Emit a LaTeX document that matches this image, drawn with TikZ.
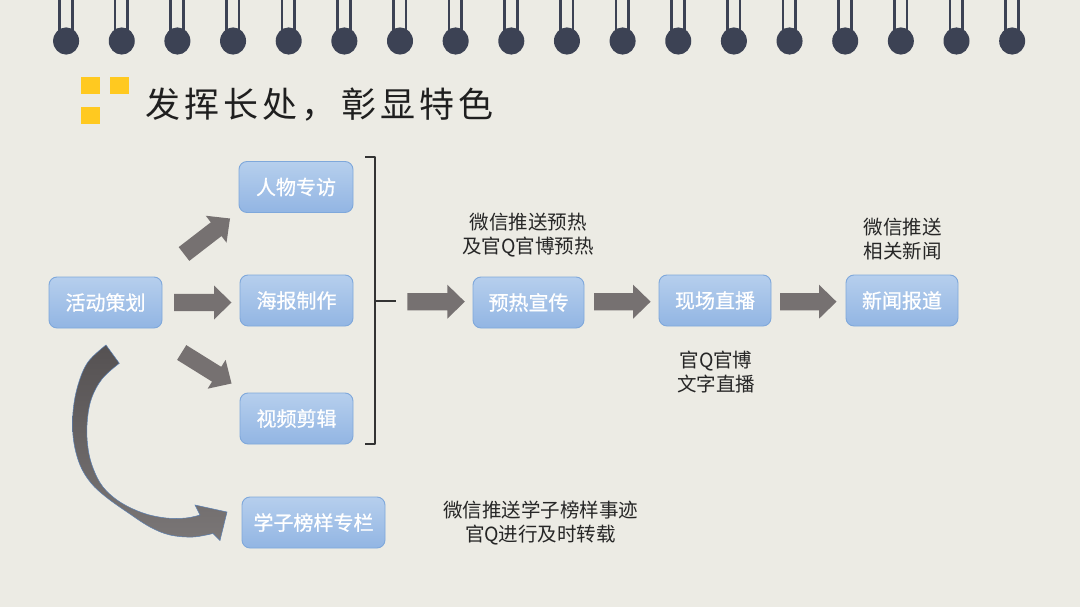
\documentclass[tikz,border=0pt]{standalone}
\usepackage{fontspec}
\setmainfont{Noto Sans CJK SC}
\newfontfamily\cjk{Noto Sans CJK SC}
\newfontfamily\cjkb[FakeBold=0.8]{Noto Sans CJK SC}
\usetikzlibrary{calc}
\definecolor{bg}{HTML}{ECEBE4}
\definecolor{ringc}{HTML}{3C4254}
\definecolor{sq}{HTML}{FFC920}
\definecolor{boxtop}{HTML}{B6CFED}
\definecolor{boxbot}{HTML}{92B5E3}
\definecolor{boxborder}{HTML}{7FA8DB}
\definecolor{arrowgrey}{HTML}{767171}
\definecolor{curvetop}{HTML}{555152}
\definecolor{curvebot}{HTML}{7A7676}
\definecolor{curveedge}{HTML}{5B80B2}
\definecolor{notec}{HTML}{262626}
\definecolor{brackc}{HTML}{333333}
\newcommand\tsp{\hspace{4.2pt}}
\newcommand\blockarrow[2]{%
  \coordinate (ba-h) at ($(#2)!17.5pt!(#1)$);
  \fill[arrowgrey] ($(#1)!8.7pt!90:(#2)$) -- ($(ba-h)!8.7pt!90:(#2)$) -- ($(ba-h)!17pt!90:(#2)$) -- (#2) -- ($(ba-h)!17pt!-90:(#2)$) -- ($(ba-h)!8.7pt!-90:(#2)$) -- ($(#1)!8.7pt!-90:(#2)$) -- cycle;}
\tikzset{
  box/.style={draw=boxborder, line width=0.9pt, rounded corners=8pt, top color=boxtop, bottom color=boxbot, text=white, font=\cjkb\fontsize{20}{23}\selectfont, minimum height=51pt, inner sep=0pt},
  note/.style={text=notec, font=\cjk\fontsize{19.5}{23.4}\selectfont, align=center, inner sep=0pt},
  ringpart/.style={fill=ringc},
  square/.style={fill=sq},
  bracket/.style={draw=brackc, line width=2.4pt}
}
\begin{document}
\begin{tikzpicture}[x=1pt,y=-1pt]
\useasboundingbox (0,0) rectangle (1080,607);
\fill[bg] (0,0) rectangle (1080,607);
% rings
\foreach \i in {0,...,17}{
  \pgfmathsetmacro\cx{66.1+55.65*\i}
  \fill[ringpart] (\cx-8,0) rectangle (\cx-5.3,33);
  \fill[ringpart] (\cx+4.7,0) rectangle (\cx+7.4,33);
  \fill[ringpart] (\cx,41) ellipse (13 and 13.6);
}
% title squares
\fill[square] (81,77) rectangle (100,94);
\fill[square] (109.5,77) rectangle (128.5,94);
\fill[square] (81,107) rectangle (100,124);
\node[anchor=base west, inner sep=0pt, text=black!88, font=\cjk\fontsize{35}{38}\selectfont] (title) at (145,118) {发\tsp{}挥\tsp{}长\tsp{}处\tsp{}，\tsp{}彰\tsp{}显\tsp{}特\tsp{}色};
% boxes
\node[box, minimum width=113pt] (plan) at (105.5,302.5) {活动策划};
\node[box, minimum width=114pt] (interview) at (296,187) {人物专访};
\node[box, minimum width=113pt] (poster) at (296.5,300.5) {海报制作};
\node[box, minimum width=113pt] (video) at (296.5,418.5) {视频剪辑};
\node[box, minimum width=143pt] (column) at (313.5,522.5) {学子榜样专栏};
\node[box, minimum width=111pt] (warm) at (528.5,302.5) {预热宣传};
\node[box, minimum width=112pt] (live) at (715,300.5) {现场直播};
\node[box, minimum width=112pt] (news) at (902,300.5) {新闻报道};
% notes
\node[note] (warmnote) at (528,235) {微信推送预热\\及官Q官博预热};
\node[note] (newsnote) at (902.5,239) {微信推送\\相关新闻};
\node[note] (livenote) at (716,372) {官Q官博\\文字直播};
\node[note] (columnnote) at (540.5,523) {微信推送学子榜样事迹\\官Q进行及时转载};
% bracket
\coordinate (brtop) at (375,157);
\coordinate (brbot) at (375,444);
\coordinate (brmid) at (375,301);
\draw[bracket, line join=round] ($(brtop)+(-10,0)$) -- (brtop) -- (brbot) -- ($(brbot)+(-10,0)$);
\draw[bracket] (brmid) -- ($(brmid)+(21,0)$);
% block arrows
\coordinate (a1s) at (184,254);
\coordinate (a1e) at (230,218.5);
\coordinate (a2s) at (174,302.5);
\coordinate (a2e) at (231.5,302.5);
\coordinate (a3s) at (181.7,352.5);
\coordinate (a3e) at (231.5,383.5);
\coordinate (a4s) at (407.4,301.7);
\coordinate (a4e) at (464.8,301.7);
\coordinate (a5s) at (594,301.7);
\coordinate (a5e) at (650.6,301.7);
\coordinate (a6s) at (780,301.7);
\coordinate (a6e) at (836.5,301.7);
\blockarrow{a1s}{a1e}
\blockarrow{a2s}{a2e}
\blockarrow{a3s}{a3e}
\blockarrow{a4s}{a4e}
\blockarrow{a5s}{a5e}
\blockarrow{a6s}{a6e}
% curved arrow
\path[draw=curveedge, line width=0.5pt, top color=curvetop, bottom color=curvebot]
  plot[smooth, tension=0.6] coordinates {(106,345) (88,362) (78,385) (73,412) (73.5,440) (80,465) (91,483) (106,497) (127,512) (150,527) (170,535) (193,537) (213,533.5)}
  -- (220,540.5) -- (227,512) -- (195,505)
  -- plot[smooth, tension=0.6] coordinates {(200,515) (186,518) (166,518) (143,513) (120,502) (103,487) (93,468) (88,448) (87,425) (91,400) (102,379) (119.3,363.3)}
  -- cycle;
\end{tikzpicture}
\end{document}
